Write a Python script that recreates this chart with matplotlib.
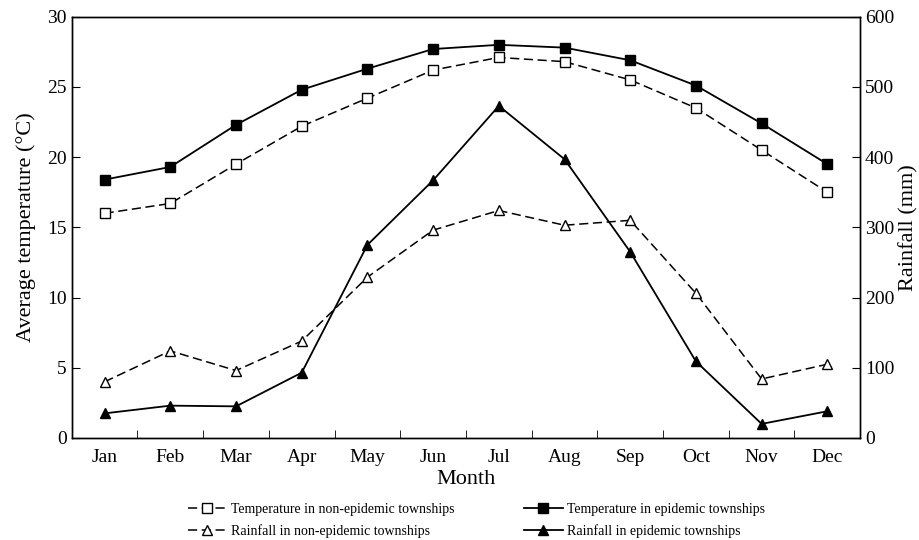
import matplotlib
matplotlib.use("Agg")
import matplotlib.pyplot as plt

plt.rcParams["font.family"] = ["Liberation Serif", "DejaVu Serif"]

months = ["Jan", "Feb", "Mar", "Apr", "May", "Jun", "Jul", "Aug", "Sep", "Oct", "Nov", "Dec"]
temp_non = [16.0, 16.7, 19.5, 22.2, 24.2, 26.2, 27.1, 26.8, 25.5, 23.5, 20.5, 17.5]
temp_epi = [18.4, 19.3, 22.3, 24.8, 26.3, 27.7, 28.0, 27.8, 26.9, 25.1, 22.4, 19.5]
rain_non = [80, 124, 96, 138, 229, 296, 324, 303, 310, 206, 84, 105]
rain_epi = [35, 46, 45, 93, 275, 367, 473, 397, 265, 109, 20, 38]

x = list(range(len(months)))

fig = plt.figure(figsize=(9.2, 5.4), dpi=100)
ax = fig.add_axes([0.078, 0.189, 0.857, 0.780])
ax2 = ax.twinx()

dash = (6, 3)
l1, = ax.plot(x, temp_non, "k--", dashes=dash, marker="s", mfc="white", mec="black", ms=7, lw=1.1,
              label="Temperature in non-epidemic townships")
l2, = ax.plot(x, temp_epi, "k-", marker="s", mfc="black", mec="black", ms=7, lw=1.3,
              label="Temperature in epidemic townships")
l3, = ax2.plot(x, rain_non, "k--", dashes=dash, marker="^", mfc="white", mec="black", ms=7, lw=1.1,
               label="Rainfall in non-epidemic townships")
l4, = ax2.plot(x, rain_epi, "k-", marker="^", mfc="black", mec="black", ms=7, lw=1.3,
               label="Rainfall in epidemic townships")

ax.set_xlim(-0.5, 11.5)
ax.set_ylim(0, 30)
ax2.set_ylim(0, 600)
ax.set_xticks(x)
ax.set_xticklabels(months)
ax.set_xticks([i + 0.5 for i in range(11)], minor=True)
ax.tick_params(axis="x", which="major", length=0, labelsize=14, pad=8)
ax.tick_params(axis="x", which="minor", direction="in", length=6)
ax.tick_params(axis="y", direction="in", length=6, labelsize=14)
ax2.tick_params(axis="y", direction="in", length=6, labelsize=14)
ax.set_yticks(range(0, 31, 5))
ax2.set_yticks(range(0, 601, 100))

ax.set_xlabel("Month", fontsize=16, labelpad=3)
ax.set_ylabel("Average temperature (\u00b0C)", fontsize=16, labelpad=8)
ax2.set_ylabel("Rainfall (mm)", fontsize=16, labelpad=3)

for a in (ax, ax2):
    for s in a.spines.values():
        s.set_linewidth(1.0)

fig.legend([l1, l3, l2, l4],
           [l1.get_label(), l3.get_label(), l2.get_label(), l4.get_label()],
           loc="upper center", bbox_to_anchor=(0.518, 0.082), ncol=2, frameon=False,
           fontsize=10, handlelength=2.8, columnspacing=5, labelspacing=0.6,
           handletextpad=0.3, borderpad=0)

fig.savefig("out.png", dpi=100)
